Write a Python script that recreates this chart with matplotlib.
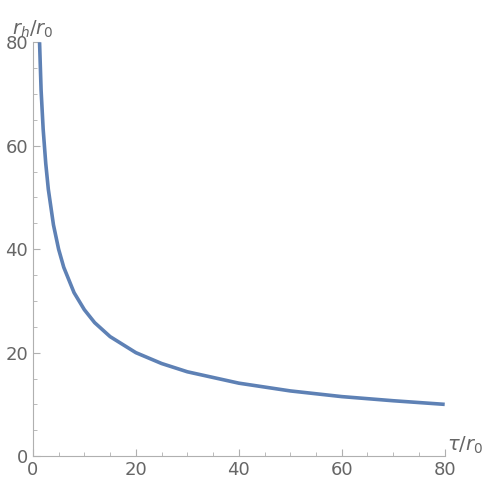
import matplotlib
matplotlib.use("Agg")
import matplotlib.pyplot as plt
from matplotlib.ticker import MultipleLocator

tau = [1.3, 1.6, 2, 2.5, 3, 4, 5, 6, 8, 10, 12, 15, 20, 25, 30, 40, 50, 60, 70, 80]
rh = [80, 70.7, 63.2, 56.6, 51.6, 44.7, 40, 36.5, 31.6, 28.3, 25.8, 23.1, 20, 17.9, 16.3, 14.1, 12.6, 11.5, 10.7, 10]
xticks = [0, 20, 40, 60, 80]
yticks = [0, 20, 40, 60, 80]

gray = "#666666"
fig = plt.figure(figsize=(4.98, 4.92), dpi=100)
ax = fig.add_axes([0.066, 0.073, 0.827, 0.841])
ax.plot(tau, rh, color="#5E81B5", lw=2.6, solid_capstyle="butt")
ax.set_xlim(0, 80)
ax.set_ylim(0, 80)
for s in ["top", "right"]:
    ax.spines[s].set_visible(False)
for s in ["left", "bottom"]:
    ax.spines[s].set_color("#b0b0b0")
ax.set_xticks(xticks)
ax.set_yticks(yticks)
ax.xaxis.set_minor_locator(MultipleLocator(5))
ax.yaxis.set_minor_locator(MultipleLocator(5))
ax.tick_params(which="both", direction="in", colors="#b0b0b0", labelcolor=gray, labelsize=13)
ax.tick_params(which="major", length=5)
ax.tick_params(which="minor", length=3)
ax.text(1.005, 0.0, r"$\tau/r_0$", transform=ax.transAxes, fontsize=14, color=gray, va="bottom", ha="left")
ax.text(0.0, 1.005, r"$r_h/r_0$", transform=ax.transAxes, fontsize=14, color=gray, va="bottom", ha="center")
ax.spines["bottom"].set_bounds(0, 80)
fig.savefig("out.png", dpi=100)
